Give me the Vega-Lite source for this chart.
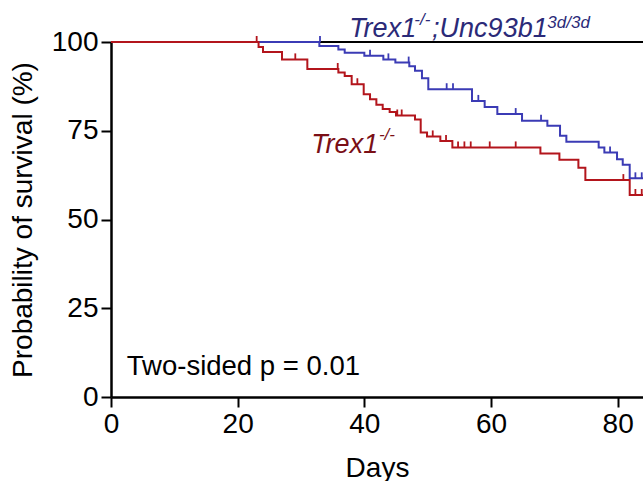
{
  "$schema": "https://vega.github.io/schema/vega-lite/v6.json",
  "width": 532,
  "height": 355,
  "autosize": {"type": "none"},
  "padding": {"left": 111, "top": 42, "right": 0, "bottom": 84},
  "config": {
    "view": {"stroke": null},
    "font": "Liberation Sans",
    "axis": {
      "labelFont": "Liberation Sans",
      "titleFont": "Liberation Sans",
      "labelFontSize": 28,
      "titleFontSize": 28,
      "titleFontWeight": "normal",
      "labelColor": "black",
      "titleColor": "black",
      "domainColor": "black",
      "tickColor": "black",
      "domainWidth": 2.5,
      "tickWidth": 2,
      "tickSize": 10,
      "labelFlush": false,
      "grid": false
    }
  },
  "datasets": {
    "curves": [
      {"group": "Trex1", "day": 0, "pct": 100},
      {"group": "Trex1", "day": 23.3, "pct": 98.6},
      {"group": "Trex1", "day": 24.0, "pct": 97.2},
      {"group": "Trex1", "day": 27.0, "pct": 95.1},
      {"group": "Trex1", "day": 31.0, "pct": 92.4},
      {"group": "Trex1", "day": 35.9, "pct": 91.4},
      {"group": "Trex1", "day": 36.9, "pct": 90.4},
      {"group": "Trex1", "day": 38.0, "pct": 88.1},
      {"group": "Trex1", "day": 39.9, "pct": 85.3},
      {"group": "Trex1", "day": 40.9, "pct": 83.9},
      {"group": "Trex1", "day": 41.9, "pct": 82.3},
      {"group": "Trex1", "day": 42.9, "pct": 81.1},
      {"group": "Trex1", "day": 44.0, "pct": 80.3},
      {"group": "Trex1", "day": 45.0, "pct": 79.3},
      {"group": "Trex1", "day": 48.0, "pct": 78.2},
      {"group": "Trex1", "day": 48.9, "pct": 74.5},
      {"group": "Trex1", "day": 49.9, "pct": 73.4},
      {"group": "Trex1", "day": 52.0, "pct": 72.1},
      {"group": "Trex1", "day": 53.9, "pct": 70.3},
      {"group": "Trex1", "day": 67.8, "pct": 68.6},
      {"group": "Trex1", "day": 70.8, "pct": 66.8},
      {"group": "Trex1", "day": 73.8, "pct": 64.6},
      {"group": "Trex1", "day": 74.9, "pct": 61.1},
      {"group": "Trex1", "day": 81.9, "pct": 56.9},
      {"group": "Trex1", "day": 84, "pct": 56.9},
      {"group": "Double", "day": 0, "pct": 100},
      {"group": "Double", "day": 32.9, "pct": 98.9},
      {"group": "Double", "day": 35.9, "pct": 97.9},
      {"group": "Double", "day": 36.9, "pct": 97.0},
      {"group": "Double", "day": 40.0, "pct": 96.1},
      {"group": "Double", "day": 43.0, "pct": 95.1},
      {"group": "Double", "day": 44.9, "pct": 94.2},
      {"group": "Double", "day": 47.1, "pct": 93.2},
      {"group": "Double", "day": 48.0, "pct": 91.9},
      {"group": "Double", "day": 49.1, "pct": 89.8},
      {"group": "Double", "day": 50.1, "pct": 86.7},
      {"group": "Double", "day": 57.0, "pct": 83.4},
      {"group": "Double", "day": 59.0, "pct": 81.7},
      {"group": "Double", "day": 61.0, "pct": 79.7},
      {"group": "Double", "day": 64.9, "pct": 77.8},
      {"group": "Double", "day": 68.9, "pct": 76.4},
      {"group": "Double", "day": 70.9, "pct": 73.6},
      {"group": "Double", "day": 71.9, "pct": 71.9},
      {"group": "Double", "day": 77.0, "pct": 70.3},
      {"group": "Double", "day": 77.9, "pct": 68.9},
      {"group": "Double", "day": 79.9, "pct": 67.0},
      {"group": "Double", "day": 80.8, "pct": 65.4},
      {"group": "Double", "day": 81.9, "pct": 61.6},
      {"group": "Double", "day": 84, "pct": 61.6}
    ],
    "censors": [
      {"group": "Trex1", "day": 23.0, "pct": 100},
      {"group": "Trex1", "day": 29.1, "pct": 95.1},
      {"group": "Trex1", "day": 35.8, "pct": 92.4},
      {"group": "Trex1", "day": 38.9, "pct": 88.1},
      {"group": "Trex1", "day": 45.2, "pct": 79.3},
      {"group": "Trex1", "day": 45.9, "pct": 79.3},
      {"group": "Trex1", "day": 50.8, "pct": 73.4},
      {"group": "Trex1", "day": 52.9, "pct": 72.1},
      {"group": "Trex1", "day": 54.8, "pct": 70.3},
      {"group": "Trex1", "day": 55.8, "pct": 70.3},
      {"group": "Trex1", "day": 56.8, "pct": 70.3},
      {"group": "Trex1", "day": 59.8, "pct": 70.3},
      {"group": "Trex1", "day": 63.9, "pct": 70.3},
      {"group": "Trex1", "day": 80.9, "pct": 61.1},
      {"group": "Trex1", "day": 82.8, "pct": 56.9},
      {"group": "Trex1", "day": 83.8, "pct": 56.9},
      {"group": "Double", "day": 33.0, "pct": 100},
      {"group": "Double", "day": 40.9, "pct": 96.1},
      {"group": "Double", "day": 43.8, "pct": 95.1},
      {"group": "Double", "day": 47.0, "pct": 94.2},
      {"group": "Double", "day": 53.0, "pct": 86.7},
      {"group": "Double", "day": 54.0, "pct": 86.7},
      {"group": "Double", "day": 58.0, "pct": 83.4},
      {"group": "Double", "day": 63.9, "pct": 79.7},
      {"group": "Double", "day": 67.9, "pct": 77.8},
      {"group": "Double", "day": 78.8, "pct": 68.9},
      {"group": "Double", "day": 82.8, "pct": 61.6},
      {"group": "Double", "day": 83.8, "pct": 61.6}
    ],
    "labels": [
      {"id": "b1", "text": "Trex1", "day": 37.6, "pct": 101.4},
      {"id": "b2", "text": ";Unc93b1", "day": 50.7, "pct": 101.4},
      {"id": "r1", "text": "Trex1", "day": 31.6, "pct": 68.7}
    ],
    "sups": [
      {"id": "b1", "text": "-/-", "day": 47.9, "pct": 104.8},
      {"id": "b2", "text": "3d/3d", "day": 68.9, "pct": 103.9},
      {"id": "r1", "text": "-/-", "day": 42.3, "pct": 72.4}
    ],
    "note": [
      {"text": "Two-sided p = 0.01", "day": 2.5, "pct": 6.2}
    ],
    "ref": [{"pct": 100}]
  },
  "layer": [
    {
      "data": {"name": "ref"},
      "mark": {"type": "rule", "color": "black", "strokeWidth": 2},
      "encoding": {"y": {"field": "pct", "type": "quantitative", "scale": {"domain": [0, 100], "nice": false}}}
    },
    {
      "data": {"name": "curves"},
      "transform": [{"filter": "datum.group === 'Double'"}],
      "mark": {"type": "line", "interpolate": "step-after", "strokeWidth": 2, "color": "#3b3bb5"},
      "encoding": {
        "x": {
          "field": "day", "type": "quantitative",
          "scale": {"domain": [0, 84], "nice": false},
          "axis": {"values": [0, 20, 40, 60, 80], "title": "Days", "labelPadding": 3, "titlePadding": 16}
        },
        "y": {
          "field": "pct", "type": "quantitative",
          "scale": {"domain": [0, 100], "nice": false},
          "axis": {"values": [0, 25, 50, 75, 100], "title": "Probability of survival (%)", "labelPadding": 3, "titlePadding": 14}
        },
        "order": {"field": "day"}
      }
    },
    {
      "data": {"name": "curves"},
      "transform": [{"filter": "datum.group === 'Trex1'"}],
      "mark": {"type": "line", "interpolate": "step-after", "strokeWidth": 2, "color": "#b3151c"},
      "encoding": {
        "x": {"field": "day", "type": "quantitative"},
        "y": {"field": "pct", "type": "quantitative"},
        "order": {"field": "day"}
      }
    },
    {
      "data": {"name": "censors"},
      "mark": {"type": "point", "shape": "M0,0L0,-1", "size": 144, "filled": false, "strokeWidth": 1.8, "opacity": 1},
      "encoding": {
        "x": {"field": "day", "type": "quantitative"},
        "y": {"field": "pct", "type": "quantitative"},
        "stroke": {
          "field": "group", "type": "nominal",
          "scale": {"domain": ["Double", "Trex1"], "range": ["#3b3bb5", "#b3151c"]},
          "legend": null
        }
      }
    },
    {
      "data": {"name": "labels"},
      "mark": {"type": "text", "font": "Liberation Sans", "fontSize": 27, "fontStyle": "italic", "align": "left", "baseline": "alphabetic"},
      "encoding": {
        "x": {"field": "day", "type": "quantitative"},
        "y": {"field": "pct", "type": "quantitative"},
        "text": {"field": "text"},
        "color": {
          "field": "id", "type": "nominal",
          "scale": {"domain": ["b1", "b2", "r1"], "range": ["#2b2a78", "#2b2a78", "#7a0f16"]},
          "legend": null
        }
      }
    },
    {
      "data": {"name": "sups"},
      "mark": {"type": "text", "font": "Liberation Sans", "fontSize": 17, "fontStyle": "italic", "align": "left", "baseline": "alphabetic"},
      "encoding": {
        "x": {"field": "day", "type": "quantitative"},
        "y": {"field": "pct", "type": "quantitative"},
        "text": {"field": "text"},
        "color": {
          "field": "id", "type": "nominal",
          "scale": {"domain": ["b1", "b2", "r1"], "range": ["#2b2a78", "#2b2a78", "#7a0f16"]},
          "legend": null
        }
      }
    },
    {
      "data": {"name": "note"},
      "mark": {"type": "text", "font": "Liberation Sans", "fontSize": 27.5, "align": "left", "baseline": "alphabetic", "color": "black"},
      "encoding": {
        "x": {"field": "day", "type": "quantitative"},
        "y": {"field": "pct", "type": "quantitative"},
        "text": {"field": "text"}
      }
    }
  ]
}
